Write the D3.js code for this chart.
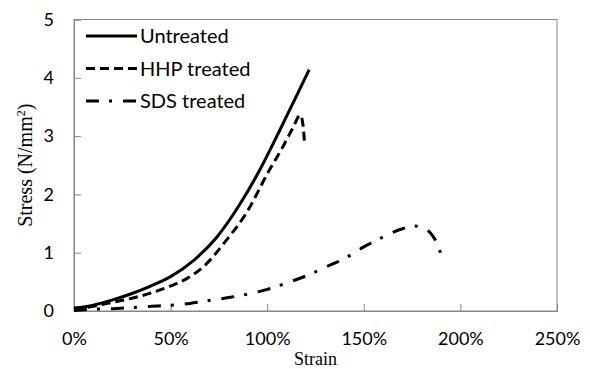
<!DOCTYPE html>
<html>
<head>
<meta charset="utf-8">
<script src="https://cdnjs.cloudflare.com/ajax/libs/d3/7.8.5/d3.min.js"></script>
<style>
  body { margin: 0; background: #fff; }
  svg { display: block; }
  .tick-label { font-family: Lato, "Open Sans", sans-serif; font-size: 18px; fill: #000; }
  .title { font-family: "Liberation Serif", "Times New Roman", serif; font-size: 20px; fill: #000; }
  .legend text { font-family: Lato, "Open Sans", sans-serif; font-size: 20px; fill: #000; }
</style>
</head>
<body>
<svg width="590" height="369"></svg>
<script>
// strain (%) and stress (N/mm2)
var untreatedStrain = [0, 10, 20, 30, 39, 50, 62, 74, 86, 96, 106.5, 114, 121.7];
var untreatedStress = [0.05, 0.1, 0.19, 0.3, 0.42, 0.59, 0.87, 1.27, 1.84, 2.41, 3.1, 3.61, 4.14];

var hhpStrain = [0, 10, 20, 30, 40, 50, 57, 67, 79, 89, 101, 107, 113, 117.2, 118.5, 119.4];
var hhpStress = [0.03, 0.08, 0.15, 0.22, 0.31, 0.43, 0.53, 0.76, 1.22, 1.67, 2.41, 2.75, 3.12, 3.36, 3.2, 2.85];

var sdsStrain = [0, 10, 20, 30, 40, 50, 60, 70, 80, 90, 100, 110, 120, 130, 140, 150, 160, 170, 176, 180, 185, 188, 190];
var sdsStress = [0.01, 0.03, 0.04, 0.06, 0.08, 0.1, 0.13, 0.18, 0.23, 0.29, 0.37, 0.48, 0.6, 0.75, 0.9, 1.1, 1.27, 1.41, 1.46, 1.43, 1.32, 1.15, 0.97];

var seriesNames = ["Untreated", "HHP treated", "SDS treated"];
var xTicks = [0, 50, 100, 150, 200, 250];
var yTicks = [0, 1, 2, 3, 4, 5];

var svg = d3.select("svg"),
    margin = {top: 19.5, right: 33, bottom: 58, left: 74},
    width = +svg.attr("width") - margin.left - margin.right,
    height = +svg.attr("height") - margin.top - margin.bottom,
    g = svg.append("g").attr("transform", "translate(" + margin.left + "," + margin.top + ")");

var x = d3.scaleLinear().domain([0, 250]).range([0, width]);
var y = d3.scaleLinear().domain([0, 5]).range([height, 0]);

var zip = function (xs, ys) { return xs.map(function (v, i) { return {x: v, y: ys[i]}; }); };
var series = [
  {name: seriesNames[0], values: zip(untreatedStrain, untreatedStress), dash: null},
  {name: seriesNames[1], values: zip(hhpStrain, hhpStress), dash: "9,5"},
  {name: seriesNames[2], values: zip(sdsStrain, sdsStress), dash: "13,10,3,11"}
];

// frame
g.append("rect")
    .attr("width", width)
    .attr("height", height)
    .attr("fill", "none")
    .attr("stroke", "#868686")
    .attr("stroke-width", 1);

// inside ticks
var xAxis = g.append("g")
    .attr("transform", "translate(0," + height + ")")
    .call(d3.axisBottom(x).tickValues(xTicks).tickSize(-7).tickFormat(function (d) { return d + "%"; }));
var yAxis = g.append("g")
    .call(d3.axisLeft(y).tickValues(yTicks).tickSize(-7).tickFormat(d3.format("d")));

[xAxis, yAxis].forEach(function (a) {
  a.select(".domain").attr("stroke", "#868686");
  a.selectAll(".tick line").attr("stroke", "#868686");
  a.selectAll(".tick text").attr("class", "tick-label").attr("font-family", null).attr("font-size", null);
});
xAxis.selectAll(".tick text").attr("y", 21).attr("dy", "0.71em");
yAxis.selectAll(".tick text").attr("x", -20);

var line = d3.line()
    .x(function (d) { return x(d.x); })
    .y(function (d) { return y(d.y); })
    .curve(d3.curveMonotoneX);

g.selectAll(".series")
  .data(series)
  .enter().append("path")
    .attr("class", "series")
    .attr("d", function (s) { return line(s.values); })
    .attr("fill", "none")
    .attr("stroke", "#000")
    .attr("stroke-width", 3)
    .attr("stroke-dasharray", function (s) { return s.dash; });

// legend
var legend = g.append("g").attr("class", "legend")
  .selectAll("g")
  .data(series)
  .enter().append("g")
    .attr("transform", function (s, i) { return "translate(12," + (16.5 + i * 32.5) + ")"; });

legend.append("line")
    .attr("x1", 0).attr("x2", 51)
    .attr("stroke", "#000")
    .attr("stroke-width", 3)
    .attr("stroke-dasharray", function (s) { return s.dash; });

legend.append("text")
    .attr("x", 54)
    .attr("dy", "0.35em")
    .text(function (s) { return s.name; });

// axis titles
g.append("text")
    .attr("class", "title")
    .attr("text-anchor", "middle")
    .attr("font-size", "18px")
    .style("font-size", "18px")
    .attr("x", width / 2)
    .attr("y", height + 54)
    .text("Strain");

var yt = g.append("text")
    .attr("class", "title")
    .attr("text-anchor", "middle")
    .attr("transform", "translate(-42," + (height / 2) + ") rotate(-90)");
yt.append("tspan").text("Stress (N/mm");
yt.append("tspan").style("font-size", "12px").attr("dy", "-7").text("2");
yt.append("tspan").attr("dy", "7").text(")");
</script>
</body>
</html>
